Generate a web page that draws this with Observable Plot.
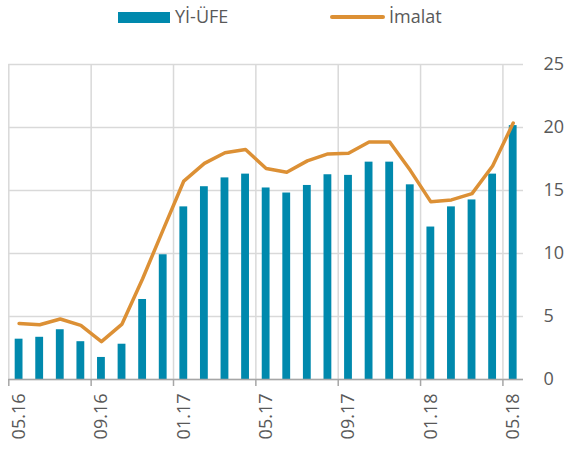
<!DOCTYPE html>
<html>
<head>
<meta charset="utf-8">
<script src="https://cdn.jsdelivr.net/npm/d3@7"></script>
<script src="https://cdn.jsdelivr.net/npm/@observablehq/plot@0.6"></script>
<style>
  html, body { margin: 0; padding: 0; background: #fff; }
  #wrap { position: relative; width: 566px; font-family: "Open Sans", sans-serif; color: #595959; }
  #legend { position: relative; height: 34px; width: 566px; font-size: 18px; }
  .sw { position: absolute; }
  .lt { position: absolute; line-height: 18px; white-space: nowrap; }
</style>
</head>
<body>
<div id="wrap">
  <div id="legend">
    <div class="sw" style="left:118px; top:12px; width:52px; height:11px; background:#0089ad;"></div>
    <div class="lt" style="left:175px; top:7px;">Yİ-ÜFE</div>
    <div class="sw" style="left:330px; top:15px; width:55px; height:4px; border-radius:2px; background:#dc9035;"></div>
    <div class="lt" style="left:389px; top:7px;">İmalat</div>
  </div>
  <div id="chart"></div>
</div>
<script>
const months = ["05.16","06.16","07.16","08.16","09.16","10.16","11.16","12.16",
  "01.17","02.17","03.17","04.17","05.17","06.17","07.17","08.17","09.17","10.17","11.17","12.17",
  "01.18","02.18","03.18","04.18","05.18"];
const yiufe = [3.2, 3.35, 3.95, 3.0, 1.75, 2.8, 6.35, 9.9, 13.7, 15.3, 16.0, 16.3, 15.2, 14.8,
  15.4, 16.25, 16.2, 17.25, 17.25, 15.45, 12.1, 13.7, 14.25, 16.3, 20.15];
const imalat = [4.45, 4.35, 4.8, 4.3, 3.0, 4.4, 8.0, 11.9, 15.75, 17.15, 18.0, 18.25, 16.75, 16.45,
  17.35, 17.9, 17.95, 18.85, 18.85, 16.6, 14.1, 14.25, 14.75, 16.95, 20.35];
const yTicks = [0, 5, 10, 15, 20, 25];
const tickStep = 4;

const data = months.map((m, i) => ({i, m, v: yiufe[i], w: imalat[i]}));
const bandStarts = months.map((m, i) => i).filter(i => i % tickStep === 0);
const labelPos = bandStarts.map(i => i + 0.5);

const chart = Plot.plot({
  width: 566,
  height: 416,
  marginTop: 30,
  marginBottom: 71,
  marginLeft: 8.3,
  marginRight: 43,
  style: { fontFamily: "Open Sans, sans-serif", fontSize: "18px", color: "#595959", background: "#fff" },
  x: { type: "linear", domain: [0, months.length] },
  y: { domain: [0, 25] },
  marks: [
    Plot.gridY(yTicks, { stroke: "#d9d9d9", strokeOpacity: 1, strokeWidth: 1.5 }),
    Plot.gridX(bandStarts, { stroke: "#d9d9d9", strokeOpacity: 1, strokeWidth: 1.5 }),
    Plot.rectY(data, { x1: d => d.i + 0.31, x2: d => d.i + 0.69, y: "v", fill: "#0089ad" }),
    Plot.ruleY([0], { stroke: "#a6a6a6", strokeWidth: 1.5 }),
    Plot.axisX({ ticks: bandStarts, tickSize: 7, tickFormat: () => "", stroke: "#a6a6a6", strokeWidth: 1.5, label: null }),
    Plot.axisX({ ticks: labelPos, tickSize: 0, tickPadding: 14, tickRotate: -90,
      tickFormat: d => months[Math.floor(d)], fontSize: 18, fill: "#595959", label: null }),
    Plot.axisY({ anchor: "right", ticks: yTicks, tickSize: 0, tickPadding: 20, fontSize: 18, fill: "#595959", label: null }),
    Plot.line(data, { x: d => d.i + 0.5, y: "w", stroke: "#dc9035", strokeWidth: 3.5, strokeLinejoin: "round", strokeLinecap: "round" })
  ]
});
document.getElementById("chart").appendChild(chart);
</script>
</body>
</html>
